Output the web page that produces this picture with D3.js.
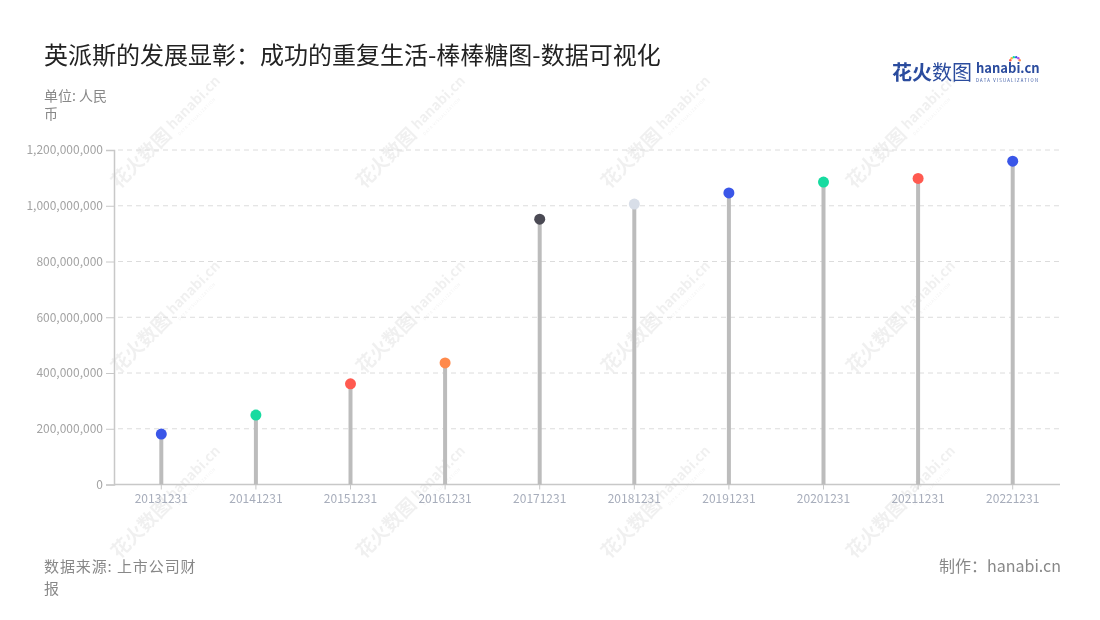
<!DOCTYPE html>
<html><head><meta charset="utf-8">
<script src="https://cdn.jsdelivr.net/npm/d3@7"></script>
<style>
html,body{margin:0;padding:0;background:#fff;}
svg{display:block;font-family:"Noto Sans CJK SC","Noto Sans",sans-serif;}
</style></head>
<body>
<svg id="chart" width="1100" height="620"></svg>
<script>
const categories = ["20131231","20141231","20151231","20161231","20171231","20181231","20191231","20201231","20211231","20221231"];
const values = [181000000, 249000000, 361000000, 436000000, 952000000, 1006000000, 1046000000, 1085000000, 1098000000, 1160000000];
const dotColors = ["#3a56e8","#17dba0","#ff5a50","#ff8a4c","#4b4a54","#d8dee8","#3a56e8","#17dba0","#ff5a50","#3a56e8"];
const yTicks = [0, 200000000, 400000000, 600000000, 800000000, 1000000000, 1200000000];
const title = "英派斯的发展显彰：成功的重复生活-棒棒糖图-数据可视化";

const svg = d3.select("#chart");
const m = {left: 114, right: 1060, top: 150, bottom: 484.5};

// watermarks
const wm = svg.append("g").attr("opacity", 0.06);
const wmX = [150, 395, 640, 885];
const wmY = [150, 335, 520];
wmY.forEach(y => wmX.forEach(x => {
  const g = wm.append("g").attr("transform", `translate(${x},${y}) rotate(-45)`);
  g.append("text").attr("x", -50).attr("y", 6).attr("font-size", 19).attr("font-weight", 700)
    .attr("fill", "#000").text("花火数图");
  g.append("text").attr("x", 30).attr("y", 2).attr("font-size", 14).attr("font-weight", 700)
    .attr("fill", "#000").text("hanabi.cn");
  g.append("text").attr("x", 31).attr("y", 11).attr("font-size", 4.2)
    .attr("fill", "#000").attr("letter-spacing", 0.6).text("DATA VISUALIZATION");
}));

// title
svg.append("text").attr("x", 44).attr("y", 64).attr("font-size", 24).attr("fill", "#222")
  .text(title);
svg.append("text").attr("x", 44).attr("y", 101).attr("font-size", 14).attr("fill", "#888").text("单位: 人民");
svg.append("text").attr("x", 44).attr("y", 119).attr("font-size", 14).attr("fill", "#888").text("币");

// logo
const logo = svg.append("g");
logo.append("text").attr("x", 892).attr("y", 80).attr("font-size", 20).attr("font-weight", 700)
  .attr("fill", "#2b4c9e").text("花火");
logo.append("text").attr("x", 932).attr("y", 80).attr("font-size", 20)
  .attr("fill", "#2b4c9e").text("数图");
logo.append("text").attr("x", 976).attr("y", 73).attr("font-size", 13).attr("font-weight", 700)
  .attr("fill", "#2b4c9e").text("hanabi.cn");
logo.append("text").attr("x", 976).attr("y", 82).attr("font-size", 4.2).attr("letter-spacing", 1.25)
  .attr("fill", "#2b4c9e").text("DATA VISUALIZATION");
const rays = ["#ff5a50","#ffb13b","#17dba0","#3a56e8","#b44ee8","#ff8a4c"];
rays.forEach((c, i) => {
  const a = (-160 + i * 28) * Math.PI / 180;
  logo.append("circle").attr("cx", 1015 + Math.cos(a) * 5).attr("cy", 62 + Math.sin(a) * 5)
    .attr("r", 1.2).attr("fill", c);
});

// scales
const x = d3.scaleBand().domain(categories).range([m.left, m.right]);
const y = d3.scaleLinear().domain([0, 1200000000]).range([m.bottom, m.top]);

// grid
svg.append("g").selectAll("line").data(yTicks.filter(d => d > 0)).join("line")
  .attr("x1", m.left + 4).attr("x2", m.right)
  .attr("y1", d => y(d)).attr("y2", d => y(d))
  .attr("stroke", "#dcdcdc").attr("stroke-dasharray", "5,4").attr("stroke-width", 1);

// y axis
const yAxis = svg.append("g").attr("transform", `translate(${m.left},0)`)
  .call(d3.axisLeft(y).tickValues(yTicks).tickSize(8).tickPadding(3).tickFormat(d3.format(",")));
yAxis.select(".domain").attr("stroke", "#c8c8c8").attr("stroke-width", 1.5);
yAxis.selectAll(".tick line").attr("stroke", "#c8c8c8");
yAxis.selectAll(".tick text").attr("fill", "#a3a3a3").attr("font-size", 12)
  .attr("font-family", "'Noto Sans CJK SC','Noto Sans',sans-serif");

// x axis
const xAxis = svg.append("g").attr("transform", `translate(0,${m.bottom})`)
  .call(d3.axisBottom(x).tickSize(5).tickPadding(5));
xAxis.select(".domain").attr("stroke", "#c8c8c8").attr("stroke-width", 1.5)
  .attr("d", `M${m.left},0H${m.right}`);
xAxis.selectAll(".tick line").attr("stroke", "#c8c8c8");
xAxis.selectAll(".tick text").attr("fill", "#a7adbb").attr("font-size", 12)
  .attr("font-family", "'Noto Sans CJK SC','Noto Sans',sans-serif");

// stems
const cx = d => x(d) + x.bandwidth() / 2;
svg.append("g").selectAll("line").data(categories).join("line")
  .attr("x1", d => cx(d)).attr("x2", d => cx(d))
  .attr("y1", m.bottom).attr("y2", (d, i) => y(values[i]))
  .attr("stroke", "#bcbcbc").attr("stroke-width", 4);

// dots
svg.append("g").selectAll("circle").data(categories).join("circle")
  .attr("cx", d => cx(d)).attr("cy", (d, i) => y(values[i]))
  .attr("r", 5.5).attr("fill", (d, i) => dotColors[i]);

// footer
svg.append("text").attr("x", 44).attr("y", 572).attr("font-size", 15).attr("letter-spacing", 0.9)
  .attr("fill", "#888").text("数据来源: 上市公司财");
svg.append("text").attr("x", 44).attr("y", 594).attr("font-size", 15).attr("fill", "#888").text("报");
svg.append("text").attr("x", 1061).attr("y", 572).attr("text-anchor", "end").attr("font-size", 16)
  .attr("fill", "#888").text("制作：hanabi.cn");
</script>
</body></html>
